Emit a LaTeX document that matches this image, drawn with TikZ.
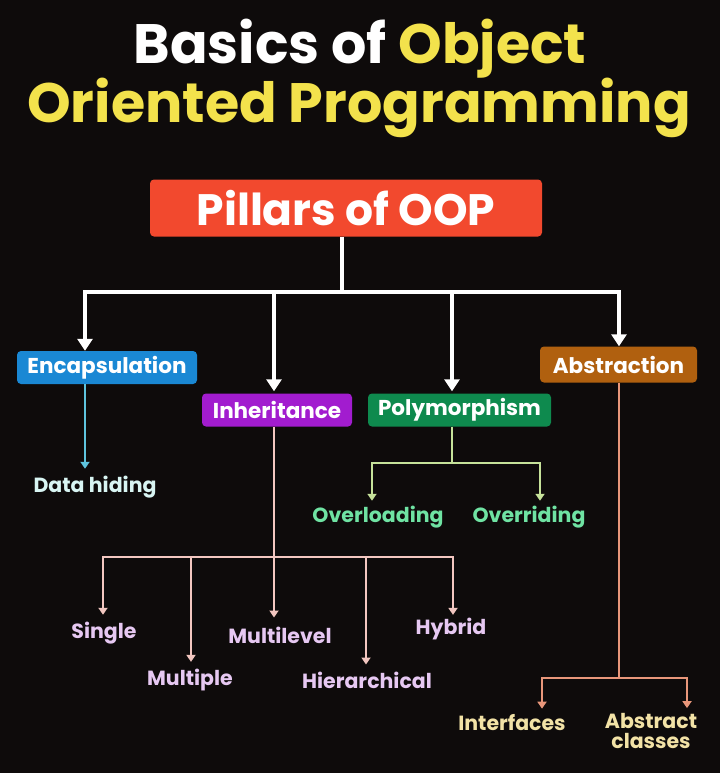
\documentclass[tikz,border=0pt]{standalone}
\usepackage{fontspec}
\setmainfont{Poppins}
\usetikzlibrary{arrows.meta}
\definecolor{bg}{HTML}{0E0B0B}
\definecolor{ttlyellow}{HTML}{F3E24C}
\definecolor{pillred}{HTML}{F2492E}
\definecolor{encblue}{HTML}{1A88D4}
\definecolor{inhpurple}{HTML}{A21CCF}
\definecolor{polygreen}{HTML}{0E8A4E}
\definecolor{absbrown}{HTML}{B0600F}
\definecolor{cyanline}{HTML}{5EC4DE}
\definecolor{cyantext}{HTML}{D8F5F3}
\definecolor{greenline}{HTML}{C6E29A}
\definecolor{greentext}{HTML}{6FE3A3}
\definecolor{pinkline}{HTML}{F2C6C0}
\definecolor{pinktext}{HTML}{E6C8F2}
\definecolor{salmonline}{HTML}{E8967A}
\definecolor{creamtext}{HTML}{F2E2A6}
\begin{document}
\begin{tikzpicture}[x=1pt,y=-1pt,
  titletext/.style={font=\fontsize{55.5}{60}\selectfont\bfseries, inner sep=0pt, anchor=base},
  pillbox/.style={fill=#1, rounded corners=4pt, text=white, font=\fontsize{21.5}{23}\selectfont\bfseries, inner sep=0pt},
  leaf/.style={text=#1, font=\fontsize{20.5}{20}\selectfont\bfseries, inner sep=0pt, align=center},
  mainwire/.style={draw=white, line width=4pt},
  mainarrow/.style={draw=white, line width=4pt, -{Triangle[length=12pt,width=15pt]}},
  subwire/.style={draw=#1, line width=2pt},
  subarrow/.style={draw=#1, line width=2pt, -{Triangle[length=7pt,width=9pt]}}
]
\fill[bg] (0,0) rectangle (720,773);
\useasboundingbox (0,0) rectangle (720,773);

% title
\node[titletext, text=white] (t1) at (360,64) {Basics of \textcolor{ttlyellow}{Object}};
\node[titletext, text=ttlyellow] (t2) at (359,122) {Oriented Programming};

% main boxes
\node[pillbox=pillred, minimum width=392pt, minimum height=57pt, font=\fontsize{44}{48}\selectfont\bfseries] (pill) at (346,208) {Pillars of OOP};
\node[pillbox=encblue, minimum width=180pt, minimum height=33pt] (enc) at (107,367.5) {Encapsulation};
\node[pillbox=inhpurple, minimum width=150pt, minimum height=33pt] (inh) at (277,410) {Inheritance};
\node[pillbox=polygreen, minimum width=183pt, minimum height=33pt] (poly) at (459.5,410) {Polymorphism};
\node[pillbox=absbrown, minimum width=157pt, minimum height=36pt] (abs) at (618.5,364.5) {Abstraction};

% x positions of the connectors
\coordinate (hub) at (342,292);
\coordinate (xenc) at (85,0);
\coordinate (xinh) at (274,0);
\coordinate (xpoly) at (452,0);
\coordinate (xabs) at (619,0);

\draw[mainwire] (pill.south -| hub) -- (hub);
\draw[mainarrow] (hub) -| (enc.north -| xenc);
\draw[mainarrow, shorten >=2pt] (hub) -| (inh.north -| xinh);
\draw[mainarrow, shorten >=2pt] (hub) -| (poly.north -| xpoly);
\draw[mainarrow] (hub) -| (abs.north -| xabs);

% leaves
\node[leaf=cyantext] (dh) at (95,487) {Data hiding};
\node[leaf=greentext] (ovl) at (378,517) {Overloading};
\node[leaf=greentext] (ovr) at (529,517) {Overriding};
\node[leaf=pinktext] (single) at (104,633) {Single};
\node[leaf=pinktext] (multiple) at (190,680) {Multiple};
\node[leaf=pinktext] (multilevel) at (280,635) {Multilevel};
\node[leaf=pinktext] (hier) at (367,680) {Hierarchical};
\node[leaf=pinktext] (hybrid) at (451,629) {Hybrid};
\node[leaf=creamtext] (intf) at (512,723) {Interfaces};
\node[leaf=creamtext] (abscl) at (651,731) {Abstract\\classes};

% encapsulation
\draw[subarrow=cyanline, shorten >=7pt] (enc.south -| xenc) -- (dh.north -| xenc);

% polymorphism
\coordinate (phub) at (452,463);
\coordinate (xovl) at (372,0);
\coordinate (xovr) at (540,0);
\draw[subwire=greenline] (poly.south -| phub) -- (phub);
\draw[subarrow=greenline, shorten >=5pt] (phub) -| (ovl.north -| xovl);
\draw[subarrow=greenline, shorten >=5pt] (phub) -| (ovr.north -| xovr);

% inheritance
\coordinate (ihub) at (274,557);
\coordinate (xsg) at (103,0);
\coordinate (xmp) at (191,0);
\coordinate (xml) at (274,0);
\coordinate (xhr) at (366,0);
\coordinate (xhy) at (453,0);
\draw[subwire=pinkline] (inh.south -| ihub) -- (ihub);
\draw[subarrow=pinkline, shorten >=7pt] (ihub) -| (single.north -| xsg);
\draw[subarrow=pinkline, shorten >=7pt] (ihub) -| (multiple.north -| xmp);
\draw[subarrow=pinkline, shorten >=9pt] (ihub) -- (multilevel.north -| xml);
\draw[subarrow=pinkline, shorten >=7pt] (ihub) -| (hier.north -| xhr);
\draw[subarrow=pinkline, shorten >=3pt] (ihub) -| (hybrid.north -| xhy);

% abstraction
\coordinate (ahub) at (619,678);
\coordinate (xint) at (542,0);
\coordinate (xac) at (687,0);
\draw[subwire=salmonline] (abs.south -| ahub) -- (ahub);
\draw[subarrow=salmonline, shorten >=6pt] (ahub) -| (intf.north -| xint);
\draw[subarrow=salmonline, shorten >=5pt] (ahub) -| (abscl.north -| xac);
\end{tikzpicture}
\end{document}
